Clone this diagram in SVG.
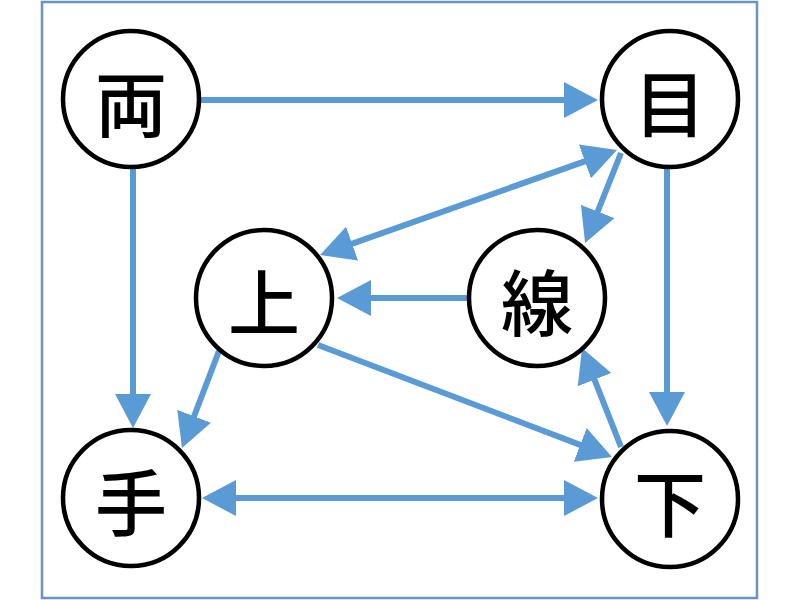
<svg xmlns="http://www.w3.org/2000/svg" width="800" height="600" viewBox="0 0 800 600">
<style>
.node circle{fill:#fff;stroke:#000;stroke-width:4.5}
.node text{font-family:"Noto Sans CJK JP","Noto Sans CJK SC",sans-serif;font-size:72px;font-weight:500;fill:#000;text-anchor:middle;dominant-baseline:central}
.edge{stroke:#5b9bd5;stroke-width:6;fill:none;marker-end:url(#arr)}
.bi{marker-start:url(#arr)}
</style>
<defs>
<marker id="arr" markerUnits="userSpaceOnUse" markerWidth="34" markerHeight="36" refX="14" refY="18" orient="auto-start-reverse" viewBox="0 0 34 36">
<path d="M0,0 L34,18 L0,36 z" fill="#5b9bd5"/>
</marker>
</defs>
<rect x="42" y="2" width="715" height="596" fill="#fff" stroke="#6b93c6" stroke-width="2.5"/>
<g id="connectors">
<line class="edge" x1="200" y1="100" x2="578" y2="100"/>
<line class="edge" x1="133" y1="168" x2="133" y2="408"/>
<line class="edge" x1="667" y1="168" x2="667" y2="406"/>
<line class="edge bi" x1="222" y1="498" x2="578" y2="498"/>
<line class="edge bi" x1="338.9" y1="248.3" x2="598.1" y2="156.7"/>
<line class="edge" x1="621" y1="153" x2="592.5" y2="224.5"/>
<line class="edge" x1="467" y1="298" x2="357" y2="298"/>
<line class="edge" x1="219" y1="351" x2="189.1" y2="429.3"/>
<line class="edge" x1="318" y1="345" x2="593.3" y2="449.9"/>
<line class="edge" x1="621" y1="447" x2="589.4" y2="366.6"/>
</g>
<g id="n-ryo" class="node"><circle cx="131" cy="99" r="68"/><text x="131" y="99">両</text></g>
<g id="n-me" class="node"><circle cx="670" cy="99" r="68"/><text x="670" y="99">目</text></g>
<g id="n-ue" class="node"><circle cx="264" cy="298" r="68"/><text x="264" y="298">上</text></g>
<g id="n-sen" class="node"><circle cx="537" cy="298" r="68"/><text x="537" y="298">線</text></g>
<g id="n-te" class="node"><circle cx="131" cy="498" r="68"/><text x="131" y="498">手</text></g>
<g id="n-shita" class="node"><circle cx="670" cy="499" r="68"/><text x="670" y="499">下</text></g>
</svg>
